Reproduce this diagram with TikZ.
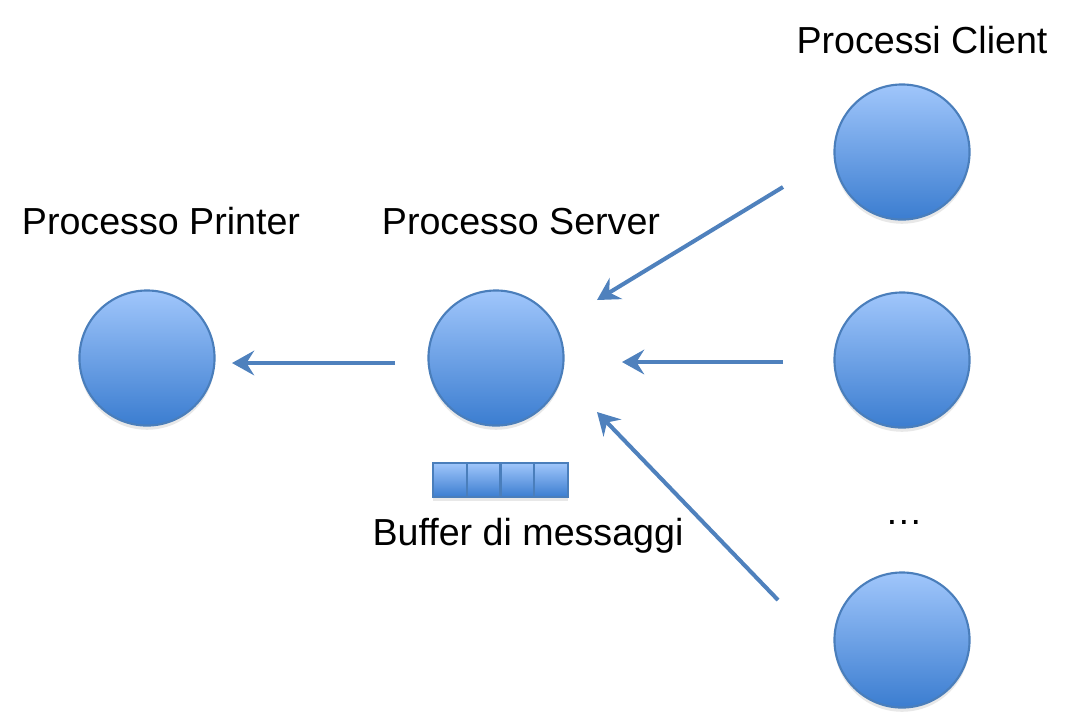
\documentclass[tikz,border=0pt]{standalone}
\usepackage{fontspec}
\setmainfont{Liberation Sans}
\usetikzlibrary{arrows.meta, shadows}

\definecolor{proctop}{HTML}{A0C6FB}
\definecolor{procmid}{HTML}{8AB8F4}
\definecolor{procbot}{HTML}{3B7DD0}
\definecolor{procline}{HTML}{4A7EBB}
\definecolor{msgblue}{HTML}{4F81BD}

\begin{document}
\begin{tikzpicture}[x=0.01cm, y=-0.01cm, >={Stealth[length=6.3pt, width=7pt, inset=2.2pt]},
  proc/.style={circle, draw=procline, line width=0.6pt, minimum size=1.35cm,
    inner sep=0pt, top color=proctop, middle color=procmid, bottom color=procbot,
    drop shadow={opacity=0.18, shadow xshift=0pt, shadow yshift=-1.2pt}},
  slot/.style={rectangle, draw=procline, line width=0.6pt, minimum width=0.3375cm,
    minimum height=0.34cm, inner sep=0pt, top color=proctop, middle color=procmid,
    bottom color=procbot,
    drop shadow={opacity=0.18, shadow xshift=0pt, shadow yshift=-1pt}},
  lbl/.style={anchor=base, inner sep=0pt, font=\fontsize{10.7}{13}\selectfont},
  msg/.style={->, draw=msgblue, line width=1.15pt}]

  \useasboundingbox (0,0) rectangle (1073,723);

  %%%%%%%%%%%%%%%%%%%%%%%%%%%%%%%%%%%%%%%%%%%%%%%%%
  % Processes
  \node[proc] (printer) at (147,358) {};
  \node[proc] (server) at (496,358) {};
  \node[proc] (client1) at (902,152) {};
  \node[proc] (client2) at (902,360) {};
  \node[proc] (client3) at (902,640) {};

  % Buffer
  \foreach \i in {1,...,4}
    \node[slot] (buf\i) at ({433+16.9+33.75*(\i-1)},480) {};

  %%%%%%%%%%%%%%%%%%%%%%%%%%%%%%%%%%%%%%%%%%%%%%%%%
  % Labels
  \node[lbl] (printerlbl) at (161,234) {Processo Printer};
  \node[lbl] (serverlbl) at (521,234) {Processo Server};
  \node[lbl] (clientlbl) at (922,53) {Processi Client};
  \node[lbl] (buflbl) at (528,545) {Buffer di messaggi};
  \node[lbl] (dots) at (904,524) {…};

  %%%%%%%%%%%%%%%%%%%%%%%%%%%%%%%%%%%%%%%%%%%%%%%%%
  % Messages
  \coordinate (srvout) at (395,363);
  \coordinate (prtin) at (232,363);
  \coordinate (c1out) at (783,187);
  \coordinate (c1in) at (597,300);
  \coordinate (c2out) at (783,362);
  \coordinate (c2in) at (622,362);
  \coordinate (c3out) at (778,600);
  \coordinate (c3in) at (597,412);

  \draw[msg] (srvout) -- (prtin);
  \draw[msg] (c1out) -- (c1in);
  \draw[msg] (c2out) -- (c2in);
  \draw[msg] (c3out) -- (c3in);

\end{tikzpicture}
\end{document}
